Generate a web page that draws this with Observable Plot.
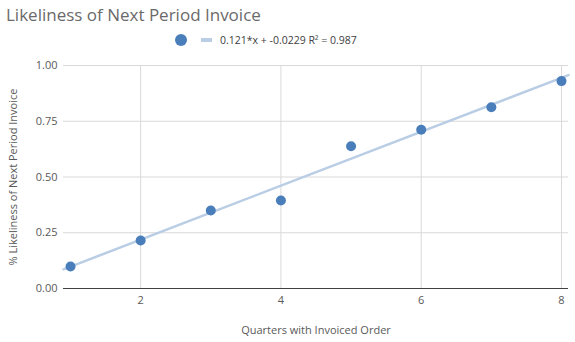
<!DOCTYPE html>
<html><head><meta charset="utf-8">
<script src="https://cdn.jsdelivr.net/npm/d3@7"></script>
<script src="https://cdn.jsdelivr.net/npm/@observablehq/plot@0.6"></script>
<style>
body{margin:0;background:#fff;font-family:"Open Sans",sans-serif;}
#wrap{position:relative;width:575px;height:342px;}
#title{position:absolute;left:6px;top:3px;font-size:17px;color:#6a6a6a;}
#legend{position:absolute;left:175px;top:33px;font-size:10.5px;color:#404040;display:flex;align-items:center;}
#legend .dot{width:12px;height:12px;border-radius:50%;background:#4a7ebb;display:inline-block;}
#legend .sw{width:11px;height:4px;background:#b9cde5;display:inline-block;margin-left:14px;margin-right:8px;}
#chart{position:absolute;left:0;top:0;}
</style></head>
<body>
<div id="wrap">
<div id="chart"></div>
<div id="title">Likeliness of Next Period Invoice</div>
<div id="legend"><span class="dot"></span><span class="sw"></span><span id="legtext"></span></div>
</div>
<script>
const quarters = [1, 2, 3, 4, 5, 6, 7, 8];
const likeliness = [0.099, 0.215, 0.35, 0.395, 0.638, 0.712, 0.813, 0.93];
const slope = 0.121;
const intercept = -0.0229;
const rSquared = 0.987;
const xTicks = [2, 4, 6, 8];
const yTicks = [0, 0.25, 0.5, 0.75, 1];
const xDomain = [0.9, 8.1];
const yDomain = [0, 1];

const points = quarters.map((q, i) => ({q, v: likeliness[i]}));
const trend = xDomain.map(x => ({q: x, v: slope * x + intercept}));

document.getElementById("legtext").textContent = `${slope}*x + ${intercept} R² = ${rSquared}`;

const chart = Plot.plot({
  width: 575,
  height: 342,
  marginTop: 65,
  marginBottom: 54,
  marginLeft: 63,
  marginRight: 7,
  style: {fontFamily: '"Open Sans", sans-serif', fontSize: "11px", color: "#595959", background: "transparent"},
  x: {domain: xDomain, ticks: xTicks},
  y: {domain: yDomain, ticks: yTicks},
  marks: [
    Plot.gridY(yTicks.slice(1), {stroke: "#d9d9d9", strokeOpacity: 1}),
    Plot.gridX(xTicks, {stroke: "#d9d9d9", strokeOpacity: 1}),
    Plot.ruleY([0], {stroke: "#404040", strokeWidth: 1}),
    Plot.axisX(xTicks, {tickSize: 0, tickPadding: 8, label: "Quarters with Invoiced Order", labelAnchor: "center", labelArrow: "none", labelOffset: 45, fill: "#595959"}),
    Plot.axisY(yTicks, {tickSize: 0, tickPadding: 6, tickFormat: d3.format(".2f"), label: "% Likeliness of Next Period Invoice", labelAnchor: "center", labelArrow: "none", labelOffset: 54, fill: "#595959"}),
    Plot.line(trend, {x: "q", y: "v", stroke: "#b9cde5", strokeWidth: 2.5}),
    Plot.dot(points, {x: "q", y: "v", r: 5, fill: "#4a7ebb", stroke: "none"})
  ]
});
document.getElementById("chart").appendChild(chart);
</script>
</body></html>
